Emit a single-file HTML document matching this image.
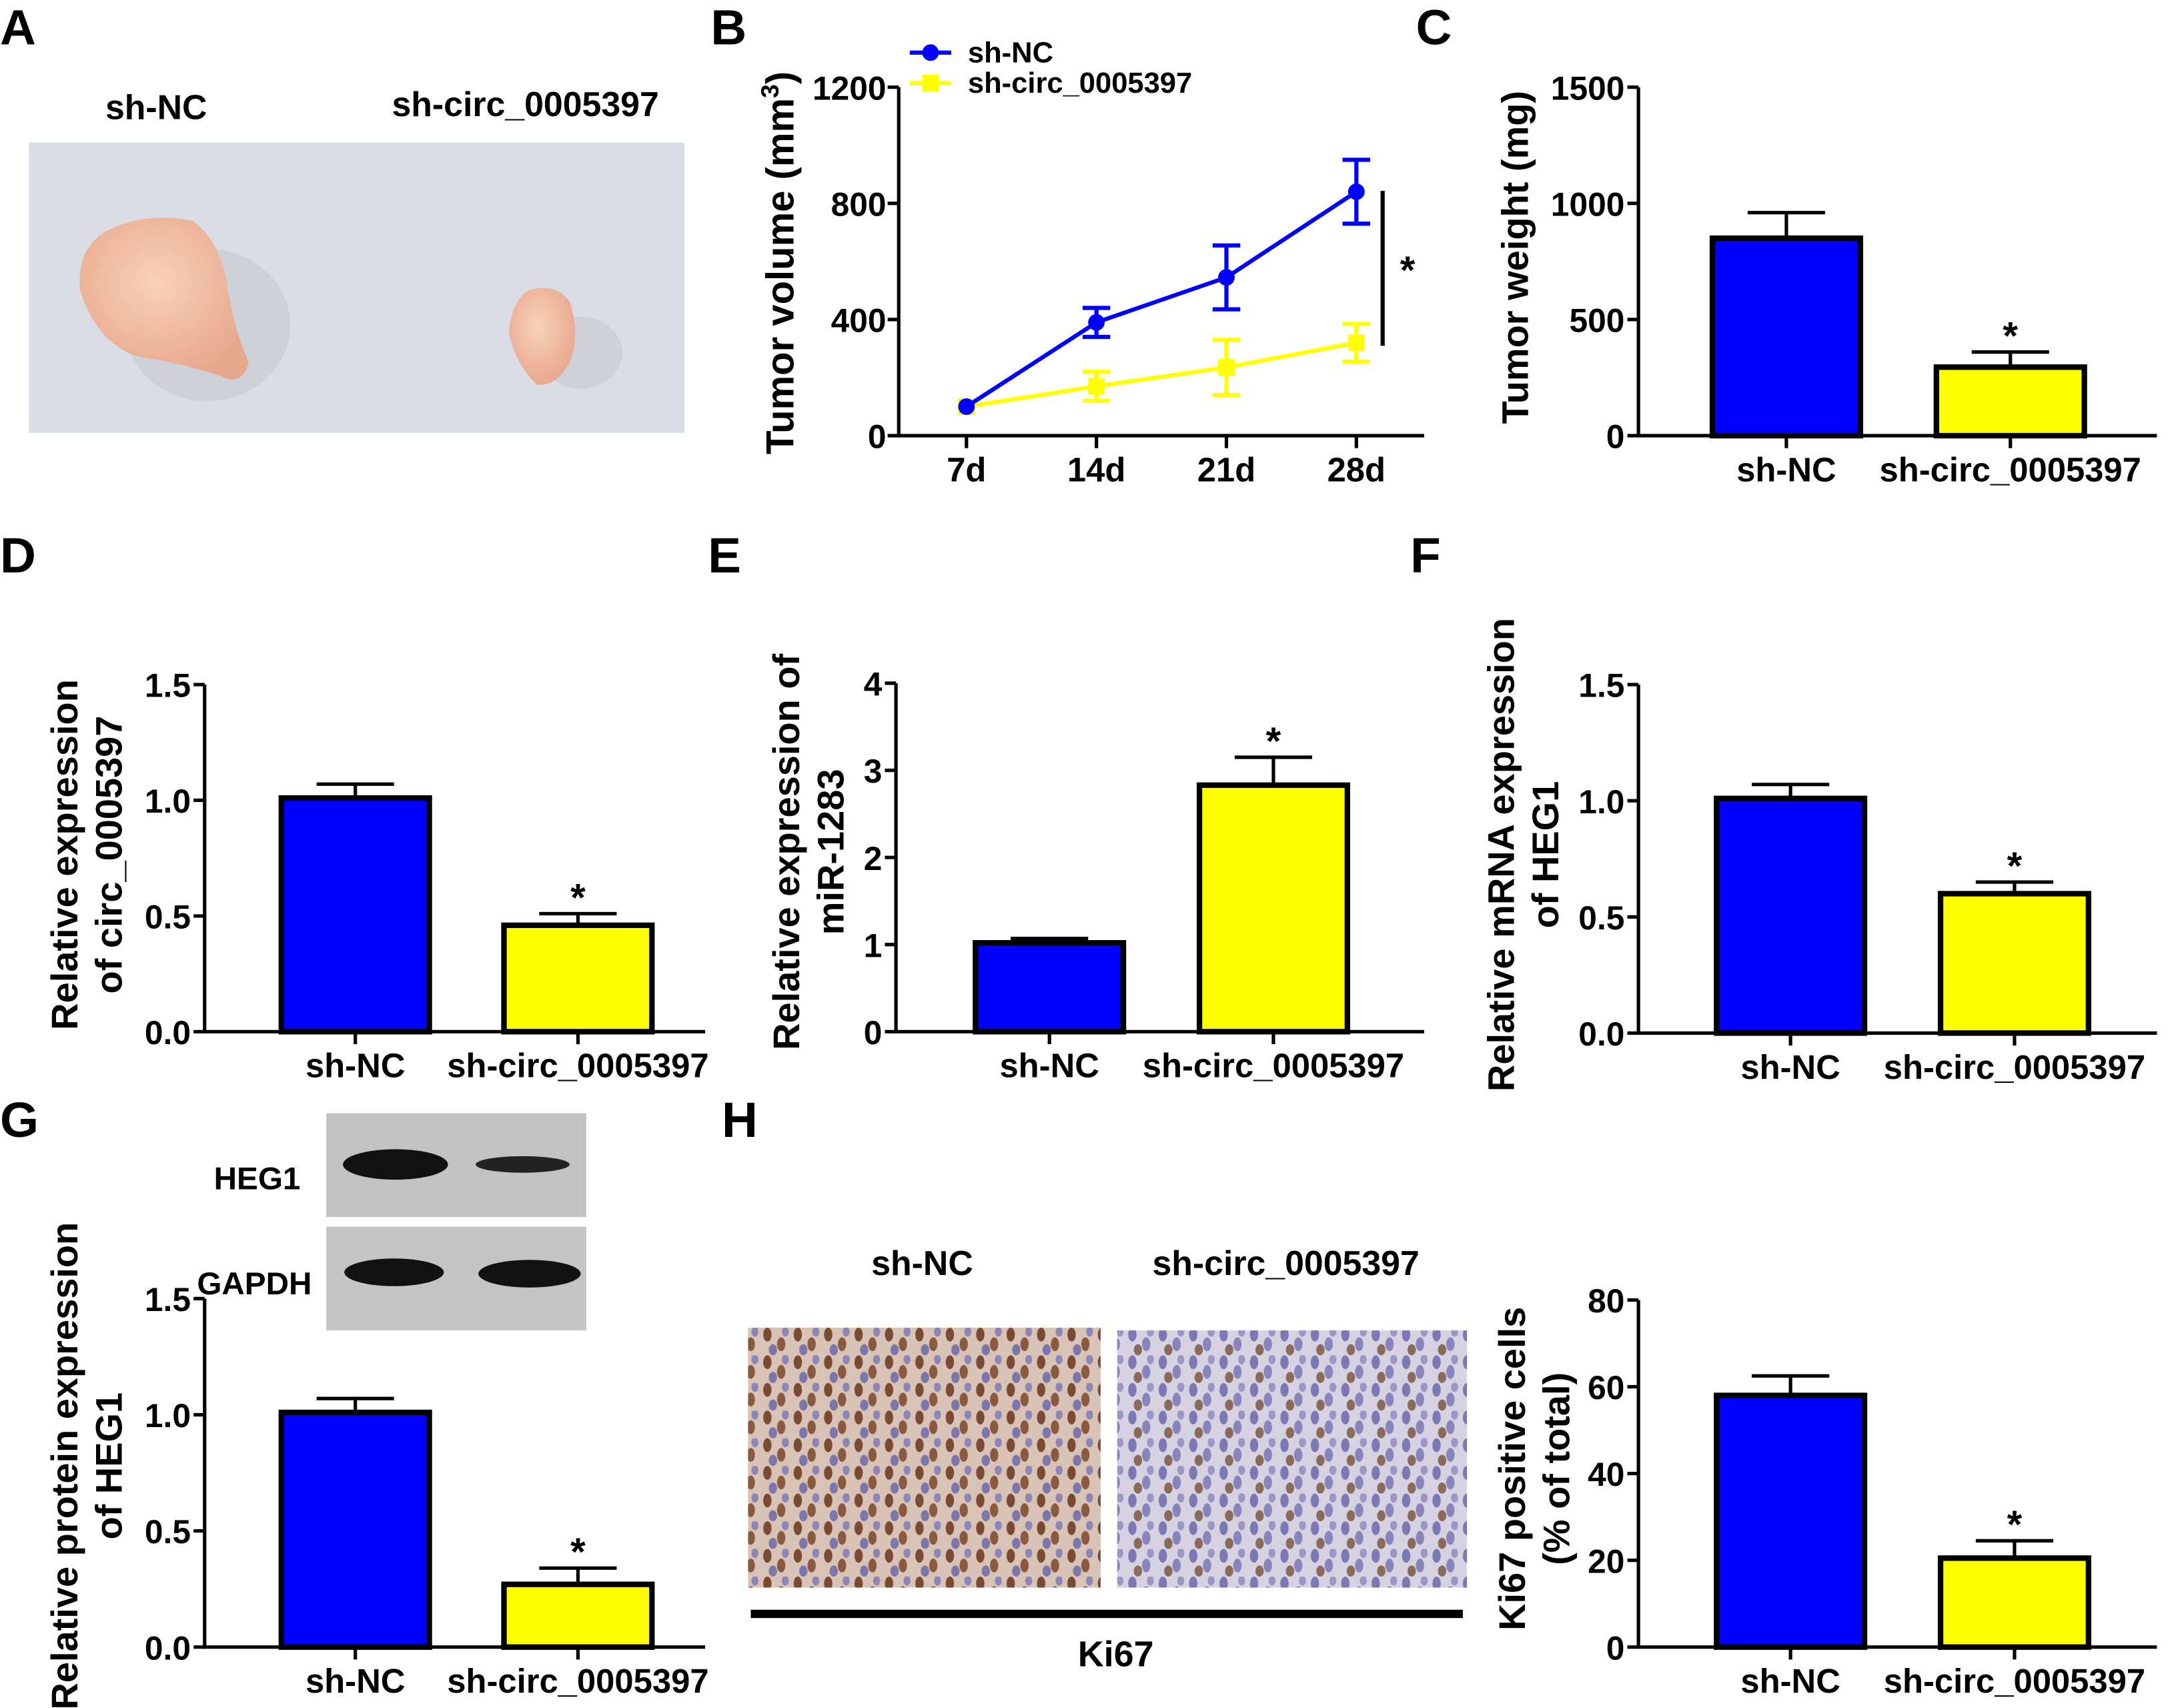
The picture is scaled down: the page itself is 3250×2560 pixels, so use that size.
<!DOCTYPE html>
<html><head><meta charset="utf-8">
<style>
html,body{margin:0;padding:0;background:#fff;}
svg{display:block;}
text{font-family:"Liberation Sans",Arial,sans-serif;font-weight:bold;fill:#000;}
</style></head>
<body>
<svg id="fig" width="3250" height="2560" viewBox="0 0 1568 1235" xmlns="http://www.w3.org/2000/svg">
<defs>
<pattern id="ihcL" width="22" height="20" patternUnits="userSpaceOnUse">
<rect width="22" height="20" fill="#d9c3b6"/>
<ellipse cx="5" cy="5" rx="3" ry="5" fill="#7a4a33"/>
<ellipse cx="15" cy="12" rx="3" ry="5" fill="#8a5a40"/>
<ellipse cx="9" cy="16" rx="3" ry="4" fill="#7c76aa"/>
<ellipse cx="18" cy="3" rx="2.5" ry="3.5" fill="#8c86b8"/>
</pattern>
<pattern id="ihcR" width="22" height="20" patternUnits="userSpaceOnUse">
<rect width="22" height="20" fill="#d6d2e2"/>
<ellipse cx="5" cy="5" rx="3" ry="5" fill="#7c78b4"/>
<ellipse cx="15" cy="12" rx="3" ry="5" fill="#8884bc"/>
<ellipse cx="9" cy="16" rx="3" ry="4" fill="#8a6a5a"/>
<ellipse cx="18" cy="3" rx="2.5" ry="3.5" fill="#9a96c6"/>
</pattern>
<radialGradient id="tum" cx="45%" cy="40%" r="60%">
<stop offset="0" stop-color="#f8d2b8"/><stop offset="1" stop-color="#e8a88e"/>
</radialGradient>
</defs>
<g id="static">
<text x="0" y="32" font-size="36">A</text>
<text x="514" y="32" font-size="36">B</text>
<text x="1024" y="32" font-size="36">C</text>
<text x="0" y="414" font-size="36">D</text>
<text x="512" y="414" font-size="36">E</text>
<text x="1020" y="414" font-size="36">F</text>
<text x="0" y="822" font-size="36">G</text>
<text x="522" y="822" font-size="36">H</text>
<text x="113" y="86" font-size="25" text-anchor="middle">sh-NC</text>
<text x="380" y="84" font-size="25" text-anchor="middle">sh-circ_0005397</text>
<g>
<rect x="21" y="103" width="474" height="210" fill="#dadde6"/>
<ellipse cx="150" cy="235" rx="60" ry="55" fill="#c4c6cc" opacity="0.5"/>
<ellipse cx="420" cy="255" rx="30" ry="26" fill="#c4c6cc" opacity="0.5"/>
<path d="M75,168 Q105,152 140,160 Q160,175 165,210 Q170,240 180,262 Q175,280 160,272 Q130,262 100,258 Q70,248 58,210 Q55,182 75,168Z" fill="url(#tum)"/>
<path d="M382,210 Q402,204 412,218 Q420,242 412,262 Q402,280 388,278 Q372,262 368,240 Q370,218 382,210Z" fill="url(#tum)"/>
</g>
<g>
<rect x="236" y="805" width="188" height="75" fill="#c2c2c2"/>
<rect x="236" y="887" width="188" height="75" fill="#c4c4c4"/>
<ellipse cx="286" cy="842" rx="38" ry="11" fill="#111"/>
<ellipse cx="378" cy="842" rx="34" ry="6" fill="#222"/>
<ellipse cx="285" cy="920" rx="36" ry="10" fill="#111"/>
<ellipse cx="383" cy="921" rx="37" ry="10" fill="#111"/>
</g>
<text x="186" y="860" font-size="23" text-anchor="middle">HEG1</text>
<text x="184" y="936" font-size="23" text-anchor="middle">GAPDH</text>
<text x="667" y="922" font-size="25" text-anchor="middle">sh-NC</text>
<text x="930" y="922" font-size="25" text-anchor="middle">sh-circ_0005397</text>
<rect x="541" y="960" width="255" height="188" fill="url(#ihcL)"/>
<rect x="808" y="962" width="253" height="186" fill="url(#ihcR)"/>
<rect x="543" y="1164" width="515" height="6" fill="#000"/>
<text x="807" y="1205" font-size="26" text-anchor="middle">Ki67</text>
</g>
<g id="charts"></g>
</svg>
<script>
// ---- Panel B data ----
var daysB = ["7d","14d","21d","28d"];
var ncVolume = [100, 390, 545, 840];
var ncVolumeErr = [0, 50, 110, 110];
var circVolume = [100, 170, 235, 320];
var circVolumeErr = [0, 50, 95, 65];
var ticksB = [0, 400, 800, 1200];
// ---- Bar panels data ----
var groups = ["sh-NC","sh-circ_0005397"];
var weightC = [850, 295]; var weightErrC = [110, 65]; var ticksC = [0, 500, 1000, 1500];
var circD = [1.01, 0.46]; var circErrD = [0.06, 0.05]; var ticksD = [0, 0.5, 1.0, 1.5];
var mirE = [1.02, 2.83]; var mirErrE = [0.05, 0.32]; var ticksE = [0, 1, 2, 3, 4];
var mrnaF = [1.01, 0.60]; var mrnaErrF = [0.06, 0.05]; var ticksF = [0, 0.5, 1.0, 1.5];
var protG = [1.01, 0.27]; var protErrG = [0.06, 0.07]; var ticksG = [0, 0.5, 1.0, 1.5];
var ki67H = [58, 20.5]; var ki67ErrH = [4.5, 4]; var ticksH = [0, 20, 40, 60, 80];
var sigC = [false, true], sigD = [false, true], sigE = [false, true], sigF = [false, true], sigG = [false, true], sigH = [false, true];

var NS = "http://www.w3.org/2000/svg";
var root = document.getElementById("charts");
function mk(tag, attrs, parent, txt) {
  var e = document.createElementNS(NS, tag);
  for (var k in attrs) e.setAttribute(k, attrs[k]);
  if (txt !== undefined) e.textContent = txt;
  (parent || root).appendChild(e);
  return e;
}
function fmt(v, dec) { return dec ? v.toFixed(1) : String(v); }

function barChart(o) {
  var g = mk("g", {});
  
  
  var max = o.ticks[o.ticks.length - 1];
  function y(v) { return o.y0 - (v / max) * (o.y0 - o.y1); }
  var ax = mk("path", {d: "M" + o.x0 + "," + o.y1 + "V" + o.y0 + "H" + o.x2, stroke: "#000", "stroke-width": 2.5, fill: "none"}, g);
  
  
  o.ticks.forEach(function (t) {
    var yy = y(t);
    mk("line", {x1: o.x0 - 8, x2: o.x0, y1: yy, y2: yy, stroke: "#000", "stroke-width": 2.5}, g);
    var tl = mk("text", {x: o.x0 - 10, y: yy + 9, "font-size": 24, "text-anchor": "end"}, g, fmt(t, o.dec));
    
    
  });
  o.vals.forEach(function (v, i) {
    var cx = o.cx[i];
    var bw = 107;
    var top = y(v);
    var eb = y(v + o.errs[i]);
    mk("line", {x1: cx, x2: cx, y1: top, y2: eb, stroke: "#000", "stroke-width": 2.5}, g);
    mk("line", {x1: cx - 28, x2: cx + 28, y1: eb, y2: eb, stroke: "#000", "stroke-width": 2.5}, g);
    var r = mk("rect", {x: cx - bw / 2, y: top, width: bw, height: o.y0 - top, fill: i === 0 ? "#0000ff" : "#ffff00", stroke: "#000", "stroke-width": 4}, g);
    
    
    mk("line", {x1: cx, x2: cx, y1: o.y0, y2: o.y0 + 9, stroke: "#000", "stroke-width": 2.5}, g);
    var cl = mk("text", {x: cx, y: o.y0 + 33, "font-size": 24.5, "text-anchor": "middle"}, g, groups[i]);
    
    
    if (o.sig[i]) {
      var s = mk("text", {x: cx, y: eb - 2, "font-size": 28, "text-anchor": "middle"}, g, "*");
      
      
    }
  });
  o.title.forEach(function (line, k) {
    var tx = o.tx + k * 32;
    var t = mk("text", {x: tx, y: o.ty, "font-size": 27, "text-anchor": "middle", transform: "rotate(-90 " + tx + " " + o.ty + ")"}, g, line);
    
    
  });
}

barChart({name: "chart-c-tumor-weight", x0: 1185, x2: 1560, y0: 315, y1: 63, cx: [1292, 1454], vals: weightC, errs: weightErrC, ticks: ticksC, dec: false, sig: sigC, title: ["Tumor weight (mg)"], tx: 1105, ty: 186});
barChart({name: "chart-d-circ-expression", x0: 148, x2: 510, y0: 746, y1: 495, cx: [257, 418], vals: circD, errs: circErrD, ticks: ticksD, dec: true, sig: sigD, title: ["Relative expression", "of circ_0005397"], tx: 56, ty: 618});
barChart({name: "chart-e-mir-expression", x0: 648, x2: 1030, y0: 746, y1: 494, cx: [759, 921], vals: mirE, errs: mirErrE, ticks: ticksE, dec: false, sig: sigE, title: ["Relative expression of", "miR-1283"], tx: 578, ty: 616});
barChart({name: "chart-f-mrna-expression", x0: 1185, x2: 1560, y0: 747, y1: 495, cx: [1295, 1457], vals: mrnaF, errs: mrnaErrF, ticks: ticksF, dec: true, sig: sigF, title: ["Relative mRNA expression", "of HEG1"], tx: 1095, ty: 618});
barChart({name: "chart-g-protein-expression", x0: 148, x2: 510, y0: 1191, y1: 939, cx: [257, 418], vals: protG, errs: protErrG, ticks: ticksG, dec: true, sig: sigG, title: ["Relative protein expression", "of HEG1"], tx: 56, ty: 1060});
barChart({name: "chart-h-ki67", x0: 1185, x2: 1560, y0: 1191, y1: 940, cx: [1295, 1457], vals: ki67H, errs: ki67ErrH, ticks: ticksH, dec: false, sig: sigH, title: ["Ki67 positive cells", "(% of total)"], tx: 1103, ty: 1062});

(function () {
  var g = mk("g", {});
  
  
  var x0 = 650, x2 = 1030, y0 = 315, y1 = 63, max = 1200;
  function y(v) { return y0 - v / max * (y0 - y1); }
  function x(i) { return 699 + i * 94; }
  mk("path", {d: "M" + x0 + "," + y1 + "V" + y0 + "H" + x2, stroke: "#000", "stroke-width": 2.5, fill: "none"}, g);
  ticksB.forEach(function (t) {
    mk("line", {x1: x0 - 8, x2: x0, y1: y(t), y2: y(t), stroke: "#000", "stroke-width": 2.5}, g);
    var tl = mk("text", {x: x0 - 9, y: y(t) + 9, "font-size": 24, "text-anchor": "end"}, g, String(t));
    
    
  });
  daysB.forEach(function (d, i) {
    mk("line", {x1: x(i), x2: x(i), y1: y0, y2: y0 + 9, stroke: "#000", "stroke-width": 2.5}, g);
    var tl = mk("text", {x: x(i), y: y0 + 33, "font-size": 24.5, "text-anchor": "middle"}, g, d);
    
    
  });
  function series(vals, errs, color, square, nm) {
    var d = vals.map(function (v, i) { return (i ? "L" : "M") + x(i) + "," + y(v); }).join("");
    var p = mk("path", {d: d, stroke: color, "stroke-width": 3, fill: "none"}, g);
    
    
    vals.forEach(function (v, i) {
      if (errs[i] > 0) {
        mk("line", {x1: x(i), x2: x(i), y1: y(v - errs[i]), y2: y(v + errs[i]), stroke: color, "stroke-width": 3}, g);
        mk("line", {x1: x(i) - 10, x2: x(i) + 10, y1: y(v - errs[i]), y2: y(v - errs[i]), stroke: color, "stroke-width": 3}, g);
        mk("line", {x1: x(i) - 10, x2: x(i) + 10, y1: y(v + errs[i]), y2: y(v + errs[i]), stroke: color, "stroke-width": 3}, g);
      }
      var m = square ? mk("rect", {x: x(i) - 6, y: y(v) - 6, width: 12, height: 12, fill: color}, g)
                     : mk("circle", {cx: x(i), cy: y(v), r: 6, fill: color}, g);
      
      
    });
  }
  series(circVolume, circVolumeErr, "#ffff00", true, "sh-circ");
  series(ncVolume, ncVolumeErr, "#0000ff", false, "sh-nc");
  var sl = mk("line", {x1: 1000, x2: 1000, y1: 138, y2: 250, stroke: "#000", "stroke-width": 3}, g);
  
  
  var st = mk("text", {x: 1018, y: 205, "font-size": 28, "text-anchor": "middle"}, g, "*");
  
  
  var lg = mk("g", {}, g);
  
  
  mk("line", {x1: 658, x2: 688, y1: 38, y2: 38, stroke: "#0000ff", "stroke-width": 3}, lg);
  mk("circle", {cx: 673, cy: 38, r: 6, fill: "#0000ff"}, lg);
  mk("text", {x: 700, y: 45, "font-size": 21}, lg, "sh-NC");
  mk("line", {x1: 658, x2: 688, y1: 60, y2: 60, stroke: "#ffff00", "stroke-width": 3}, lg);
  mk("rect", {x: 667, y: 54, width: 12, height: 12, fill: "#ffff00"}, lg);
  mk("text", {x: 700, y: 67, "font-size": 21}, lg, "sh-circ_0005397");
  var t = mk("text", {x: 574, y: 190, "font-size": 28, "text-anchor": "middle", transform: "rotate(-90 574 190)"}, g);
  
  
  t.appendChild(document.createTextNode("Tumor volume (mm"));
  mk("tspan", {dy: -11, "font-size": 18}, t, "3");
  mk("tspan", {dy: 11}, t, ")");
})();
</script>
</body></html>
